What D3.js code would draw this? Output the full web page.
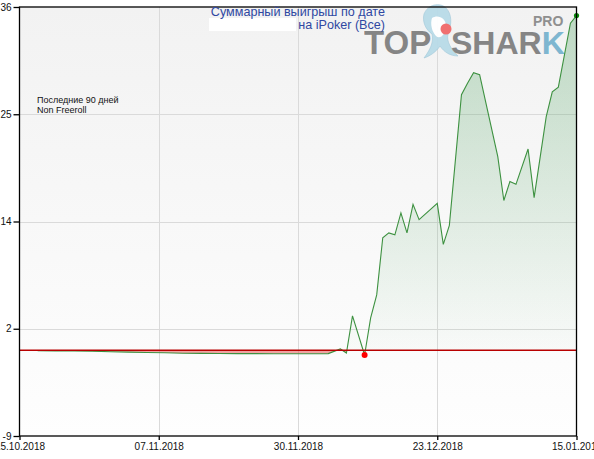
<!DOCTYPE html>
<html>
<head>
<meta charset="utf-8">
<script src="https://cdn.jsdelivr.net/npm/d3@7"></script>
<style>
  body { margin: 0; background: #fff; overflow: hidden; }
  text { font-family: Arial, "Liberation Sans", sans-serif; }
</style>
</head>
<body>
<div id="chart"></div>
<script>
// data (cumulative winnings by day)
const dates = ["18.10.2018","21.10.2018","24.10.2018","27.10.2018","30.10.2018","02.11.2018","05.11.2018",
  "08.11.2018","11.11.2018","14.11.2018","17.11.2018","20.11.2018","23.11.2018","26.11.2018","29.11.2018",
  "02.12.2018","05.12.2018","07.12.2018","08.12.2018","09.12.2018","11.12.2018","12.12.2018","13.12.2018",
  "14.12.2018","15.12.2018","16.12.2018","17.12.2018","18.12.2018","19.12.2018","20.12.2018","23.12.2018",
  "24.12.2018","25.12.2018","27.12.2018","28.12.2018","29.12.2018","30.12.2018","02.01.2019","03.01.2019",
  "04.01.2019","05.01.2019","07.01.2019","08.01.2019","10.01.2019","11.01.2019","12.01.2019","14.01.2019",
  "15.01.2019"];
const values = [-0.05,-0.08,-0.08,-0.1,-0.17,-0.2,-0.24,
  -0.27,-0.32,-0.33,-0.34,-0.36,-0.36,-0.37,-0.38,
  -0.38,-0.36,0.13,-0.3,3.6,-0.5,3.4,5.8,
  11.8,12.3,12.1,14.4,12.3,15.3,13.7,15.4,
  11.1,13.1,26.8,28.0,29.1,28.9,20.3,15.7,
  17.7,17.4,21.1,16.0,24.5,27.1,27.6,34.3,
  35.1];
const yTicks = [-9, 2.25, 13.5, 24.75, 36];
const xTickLabels = ["15.10.2018","07.11.2018","30.11.2018","23.12.2018","15.01.2019"];
const titleLines = ["Суммарный выигрыш по дате", "на iPoker (Все)"];
const legendLines = ["Последние 90 дней", "Non Freeroll"];

const width = 594, height = 459;
const margin = {top: 7, right: 17.5, bottom: 23, left: 19.5};

const parse = d3.timeParse("%d.%m.%Y");
const data = dates.map((d, i) => ({date: parse(d), value: values[i]}));
const tickDates = xTickLabels.map(parse);

const svg = d3.select("#chart").append("svg")
    .attr("width", width)
    .attr("height", height);

const x = d3.scaleTime()
    .domain([tickDates[0], tickDates[tickDates.length - 1]])
    .range([margin.left, width - margin.right]);
const y = d3.scaleLinear()
    .domain([yTicks[0], yTicks[yTicks.length - 1]])
    .range([height - margin.bottom, margin.top]);

const defs = svg.append("defs");
const bg = defs.append("linearGradient").attr("id", "bg")
    .attr("x1", 0).attr("y1", 0).attr("x2", 0).attr("y2", 1);
bg.append("stop").attr("offset", "0%").attr("stop-color", "#f2f2f2");
bg.append("stop").attr("offset", "100%").attr("stop-color", "#fefefe");

const gfill = defs.append("linearGradient").attr("id", "gfill")
    .attr("gradientUnits", "userSpaceOnUse")
    .attr("x1", 0).attr("x2", 0).attr("y1", y(36)).attr("y2", y(0));
gfill.append("stop").attr("offset", "0%").attr("stop-color", "#4aa05c").attr("stop-opacity", 0.32);
gfill.append("stop").attr("offset", "100%").attr("stop-color", "#4aa05c").attr("stop-opacity", 0.02);

defs.append("clipPath").attr("id", "above")
  .append("rect").attr("x", 0).attr("y", 0).attr("width", width).attr("height", y(0));
defs.append("clipPath").attr("id", "below")
  .append("rect").attr("x", 0).attr("y", y(0)).attr("width", width).attr("height", height);

// plot background
svg.append("rect")
    .attr("x", x.range()[0]).attr("y", y.range()[1])
    .attr("width", x.range()[1] - x.range()[0])
    .attr("height", y.range()[0] - y.range()[1])
    .attr("fill", "url(#bg)");

// grid
svg.append("g").selectAll("line").data(yTicks.slice(1, -1)).join("line")
    .attr("x1", x.range()[0]).attr("x2", x.range()[1])
    .attr("y1", d => Math.round(y(d)) + 0.5).attr("y2", d => Math.round(y(d)) + 0.5)
    .attr("stroke", "#dadada");
svg.append("g").selectAll("line").data(tickDates.slice(1, -1)).join("line")
    .attr("x1", d => Math.round(x(d)) + 0.5).attr("x2", d => Math.round(x(d)) + 0.5)
    .attr("y1", y.range()[1]).attr("y2", y.range()[0])
    .attr("stroke", "#dadada");

// logo
const logo = svg.append("g").attr("opacity", 0.95);
logo.append("path")
    .attr("d", "M424,14 C428,4 440,2 446,8 C452,14 452,24 448,34 C446,42 452,50 458,56 C450,56 444,52 440,46 C436,52 430,56 424,58 C430,50 434,42 432,34 C426,30 422,22 424,14 Z")
    .attr("fill", "#b9dbe8").attr("stroke", "#9cc6d8").attr("stroke-width", 0.6);
logo.append("path")
    .attr("d", "M432,18 C438,14 446,18 446,26 C446,34 440,40 436,36 C432,32 430,24 432,18 Z")
    .attr("fill", "#ffffff");
logo.append("circle").attr("cx", 446).attr("cy", 29).attr("r", 5.5).attr("fill", "#f06a6a");
logo.append("text").attr("x", 364).attr("y", 54)
    .attr("font-size", 33).attr("font-weight", "bold").attr("fill", "#808080")
    .text("TOP");
const shark = logo.append("text").attr("x", 451).attr("y", 54)
    .attr("font-size", 32).attr("font-weight", "bold").attr("fill", "#808080");
shark.append("tspan").text("SHAR");
shark.append("tspan").attr("fill", "#78b3cf").text("K");
logo.append("text").attr("x", 533).attr("y", 26)
    .attr("font-size", 14).attr("font-weight", "bold").attr("fill", "#8a8a8a")
    .text("PRO");

// areas
svg.append("path").datum(data)
    .attr("clip-path", "url(#above)")
    .attr("fill", "url(#gfill)")
    .attr("d", d3.area().x(d => x(d.date)).y0(y(0)).y1(d => y(d.value)));
svg.append("path").datum(data)
    .attr("clip-path", "url(#below)")
    .attr("fill", "#e85a5a").attr("fill-opacity", 0.55)
    .attr("d", d3.area().x(d => x(d.date)).y0(y(0)).y1(d => y(d.value)));

// line
svg.append("path").datum(data)
    .attr("fill", "none")
    .attr("stroke", "#3d9140")
    .attr("stroke-width", 1.1)
    .attr("d", d3.line().x(d => x(d.date)).y(d => y(d.value)));

// zero line
svg.append("line")
    .attr("x1", x.range()[0]).attr("x2", x.range()[1])
    .attr("y1", y(0)).attr("y2", y(0))
    .attr("stroke", "#b80000").attr("stroke-width", 1.4);

// min / last points
const minPt = data.reduce((a, b) => b.value < a.value ? b : a);
const lastPt = data[data.length - 1];
svg.append("circle").attr("cx", x(minPt.date)).attr("cy", y(minPt.value))
    .attr("r", 3).attr("fill", "#ff0000");
svg.append("circle").attr("cx", x(lastPt.date)).attr("cy", y(lastPt.value))
    .attr("r", 2.6).attr("fill", "#0a8a0a");

// frame
svg.append("rect")
    .attr("x", x.range()[0]).attr("y", y.range()[1])
    .attr("width", x.range()[1] - x.range()[0])
    .attr("height", y.range()[0] - y.range()[1])
    .attr("fill", "none").attr("stroke", "#000").attr("stroke-width", 1.3);

// axes
const yAxis = svg.append("g")
    .attr("transform", `translate(${x.range()[0]},0)`)
    .call(d3.axisLeft(y).tickValues(yTicks).tickFormat(d => Math.round(d)).tickSize(6).tickPadding(2));
const xAxis = svg.append("g")
    .attr("transform", `translate(0,${y.range()[0]})`)
    .call(d3.axisBottom(x).tickValues(tickDates).tickFormat(d3.timeFormat("%d.%m.%Y")).tickSize(4).tickPadding(3));
[yAxis, xAxis].forEach(g => {
  g.select(".domain").remove();
  g.selectAll(".tick line").attr("stroke", "#000").attr("stroke-width", 1.3);
  g.selectAll(".tick text").attr("font-size", 10).attr("fill", "#111")
    .attr("font-family", "Arial, 'Liberation Sans', sans-serif");
});

// title
svg.append("rect").attr("x", 209).attr("y", 18).attr("width", 87).attr("height", 13).attr("fill", "#fff");
svg.append("g").selectAll("text").data(titleLines).join("text")
    .attr("x", 385).attr("y", (d, i) => 16 + i * 13)
    .attr("text-anchor", "end")
    .attr("font-size", 12.6)
    .attr("fill", "#2f48a2")
    .text(d => d);

// legend
svg.append("g").selectAll("text").data(legendLines).join("text")
    .attr("x", 37).attr("y", (d, i) => 103 + i * 10)
    .attr("font-size", 9)
    .attr("fill", "#111")
    .text(d => d);
</script>
</body>
</html>
